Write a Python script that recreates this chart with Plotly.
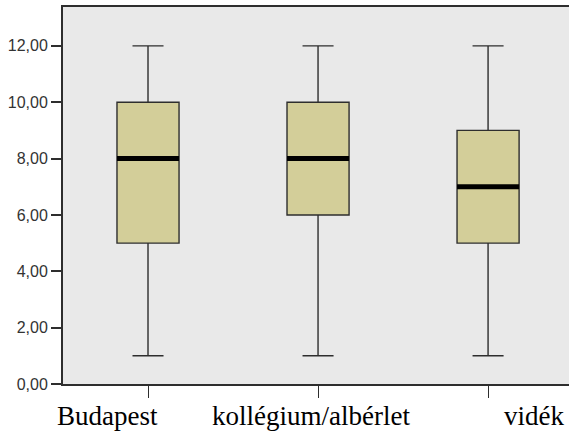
import plotly.graph_objects as go

# Summary statistics per residence group
categories = ["Budapest", "kollégium/albérlet", "vidék"]
lower_fence = [1, 1, 1]
q1 = [5, 6, 5]
median = [8, 8, 7]
q3 = [10, 10, 9]
upper_fence = [12, 12, 12]

y_ticks = [0, 2, 4, 6, 8, 10, 12]

positions = list(range(len(categories)))
box_width = 0.365
line_color = "#2e2e2e"
box_fill = "#D3CE99"

fig = go.Figure()

fig.add_trace(go.Box(
    x=positions,
    q1=q1,
    median=median,
    q3=q3,
    lowerfence=lower_fence,
    upperfence=upper_fence,
    width=box_width,
    whiskerwidth=0.5,
    fillcolor=box_fill,
    line=dict(color=line_color, width=1.4),
    boxpoints=False,
    hoverinfo="skip",
    showlegend=False,
))

# Thick median bars drawn on top of each box
for pos, med in zip(positions, median):
    fig.add_trace(go.Scatter(
        x=[pos - box_width / 2, pos + box_width / 2],
        y=[med, med],
        mode="lines",
        line=dict(color="black", width=5),
        hoverinfo="skip",
        showlegend=False,
    ))

# Category labels below the axis
label_shifts = [-41, -7, 46]
for pos, name, shift in zip(positions, categories, label_shifts):
    fig.add_annotation(
        x=pos, xref="x", y=0, yref="paper",
        text=name, showarrow=False,
        xanchor="center", yanchor="middle",
        xshift=shift, yshift=-32,
        font=dict(family="Liberation Serif", size=27, color="black"),
    )

fig.update_layout(
    width=569,
    height=432,
    margin=dict(l=63, r=0, t=7, b=48),
    paper_bgcolor="white",
    plot_bgcolor="#E9E9E9",
    separators=", ",
    xaxis=dict(
        range=[-0.5, 2.476],
        tickvals=positions,
        ticktext=categories,
        showticklabels=False,
        ticks="outside",
        ticklen=12,
        tickwidth=1.3,
        tickcolor=line_color,
        showline=True,
        linecolor=line_color,
        linewidth=2,
        mirror=True,
        showgrid=False,
        zeroline=False,
    ),
    yaxis=dict(
        range=[0, 13.38],
        tickvals=y_ticks,
        tickformat=".2f",
        ticks="outside",
        ticklen=10,
        tickwidth=1.5,
        tickcolor=line_color,
        showline=True,
        linecolor=line_color,
        linewidth=2,
        showgrid=False,
        zeroline=False,
        tickfont=dict(family="Liberation Sans Narrow, Liberation Sans", size=16, color="#333333"),
    ),
)

fig.write_html("out.html")
